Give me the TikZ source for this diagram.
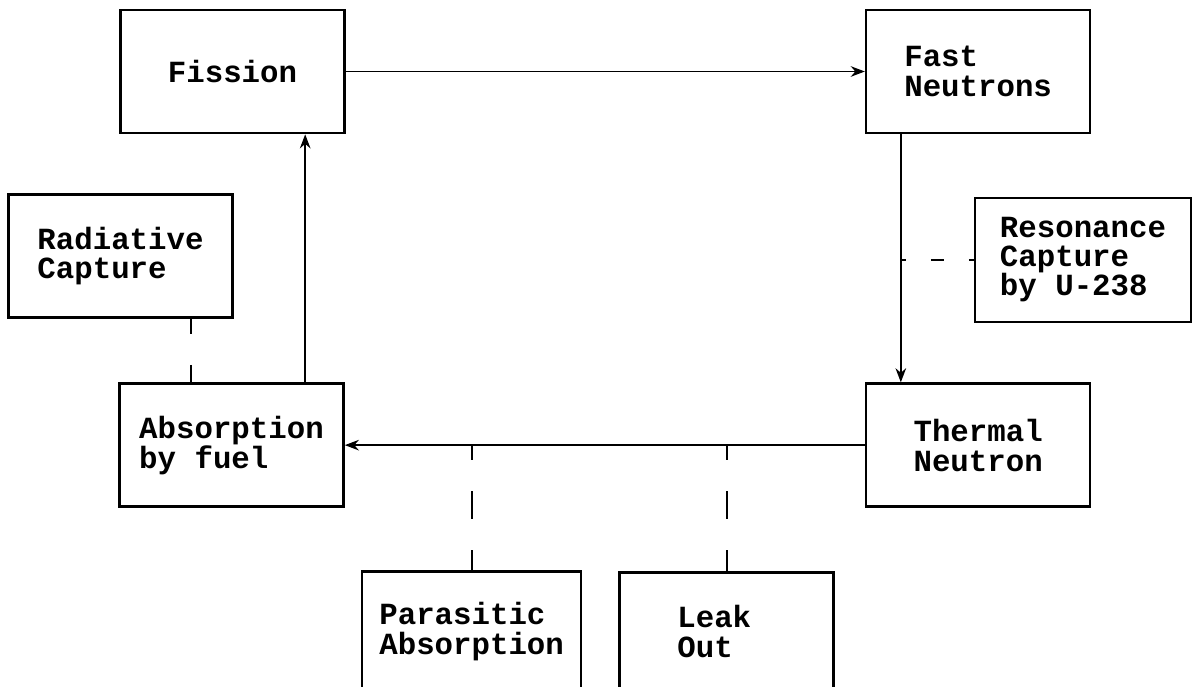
\documentclass[tikz,border=0pt]{standalone}
\usepackage{fontspec}
\setmonofont{Liberation Mono}
\usetikzlibrary{positioning, arrows.meta}

\begin{document}
\begin{tikzpicture}[
    >={Stealth[length=8pt, width=6pt]},
    font=\ttfamily\bfseries\fontsize{17.5}{17}\selectfont,
    stage/.style={rectangle, draw=black, line width=1.5pt, minimum width=4.48cm, minimum height=2.46cm, align=left, inner sep=0pt},
    arrow/.style={->, line width=1.1pt},
    loss/.style={line width=1.1pt, dash pattern=on 0.56cm off 0.62cm, dash phase=0.26cm}
]
\useasboundingbox (0,0) rectangle (23.9,-13.74);
\node[stage] (fission) at (4.65,-1.43) {Fission};
\node[stage, right=10.38cm of fission] (fast) {Fast\\Neutrons};
\node[stage, below=4.96cm of fast] (thermal) {Thermal\\Neutron};
\node[stage, left=10.4cm of thermal] (absorb) {Absorption\\by fuel\hspace*{0.4cm}};
\node[stage] (radiative) at (2.41,-5.12) {Radiative\\Capture};
\node[stage, minimum width=4.32cm, minimum height=2.48cm] (resonance) at (21.66,-5.2) {Resonance\\[-0.5pt]Capture\\[-0.5pt]by U-238};
\node[stage, minimum width=4.38cm, minimum height=2.4cm, below right=1.24cm and 0.32cm of absorb] (parasitic) {Parasitic\\Absorption};
\node[stage, minimum width=4.28cm, minimum height=2.36cm, right=0.72cm of parasitic] (leak) {Leak\hspace*{0.5cm}\\Out};
% main cycle
\coordinate (fdown) at ([xshift=0.72cm]fast.south west);
\coordinate (aup) at ([xshift=3.74cm]absorb.north west);
\draw[arrow] (fission) -- (fast);
\draw[arrow] (fdown) -- (fdown |- thermal.north);
\draw[arrow] (thermal.west) -- (thermal.west -| absorb.east);
\draw[arrow] (aup) -- (aup |- fission.south);
% losses
\coordinate (rdown) at ([xshift=3.68cm]radiative.south west);
\draw[loss] (rdown) -- (rdown |- absorb.north);
\draw[loss, dash pattern=on 0.26cm off 0.5cm, dash phase=0.16cm] (fdown |- resonance.west) -- (resonance.west);
\draw[loss] (parasitic.north |- thermal.west) -- (parasitic.north);
\draw[loss] (leak.north |- thermal.west) -- (leak.north);
\end{tikzpicture}
\end{document}
